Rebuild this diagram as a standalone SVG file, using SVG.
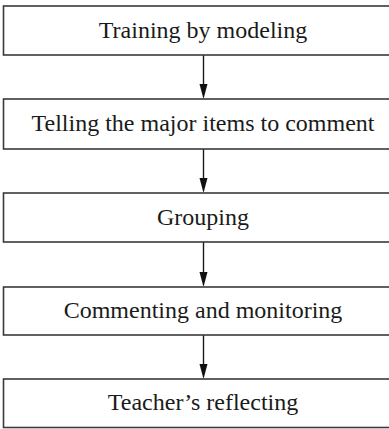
<svg xmlns="http://www.w3.org/2000/svg" width="389" height="429" viewBox="0 0 389 429">
<style>
.box{fill:#fff;stroke:#3a3a3a;stroke-width:1.6}
.lbl{font-family:"Liberation Serif","Times New Roman",serif;font-size:24px;fill:#1a1a1a;text-anchor:middle}
.conn{stroke:#1a1a1a;stroke-width:1.4;fill:none}
.head{fill:#111}
</style>
<rect width="389" height="429" fill="#fff"/>
<g id="connectors">
<line class="conn" x1="203.5" y1="55" x2="203.5" y2="86"/>
<polygon class="head" points="199.5,84 207.5,84 203.5,99"/>
<line class="conn" x1="203.5" y1="149" x2="203.5" y2="180"/>
<polygon class="head" points="199.5,178 207.5,178 203.5,193"/>
<line class="conn" x1="203.5" y1="242" x2="203.5" y2="274"/>
<polygon class="head" points="199.5,272 207.5,272 203.5,287"/>
<line class="conn" x1="203.5" y1="335" x2="203.5" y2="366"/>
<polygon class="head" points="199.5,364 207.5,364 203.5,379"/>
</g>
<g id="n1"><rect class="box" x="3.5" y="6" width="400" height="49"/><text class="lbl" x="203" y="37.5">Training by modeling</text></g>
<g id="n2"><rect class="box" x="3.5" y="99" width="400" height="50"/><text class="lbl" x="203" y="131">Telling the major items to comment</text></g>
<g id="n3"><rect class="box" x="3.5" y="193" width="400" height="49"/><text class="lbl" x="203" y="224.5">Grouping</text></g>
<g id="n4"><rect class="box" x="3.5" y="287" width="400" height="48"/><text class="lbl" x="203" y="317.5">Commenting and monitoring</text></g>
<g id="n5"><rect class="box" x="3.5" y="379" width="400" height="48.5"/><text class="lbl" x="203" y="410">Teacher’s reflecting</text></g>
</svg>
